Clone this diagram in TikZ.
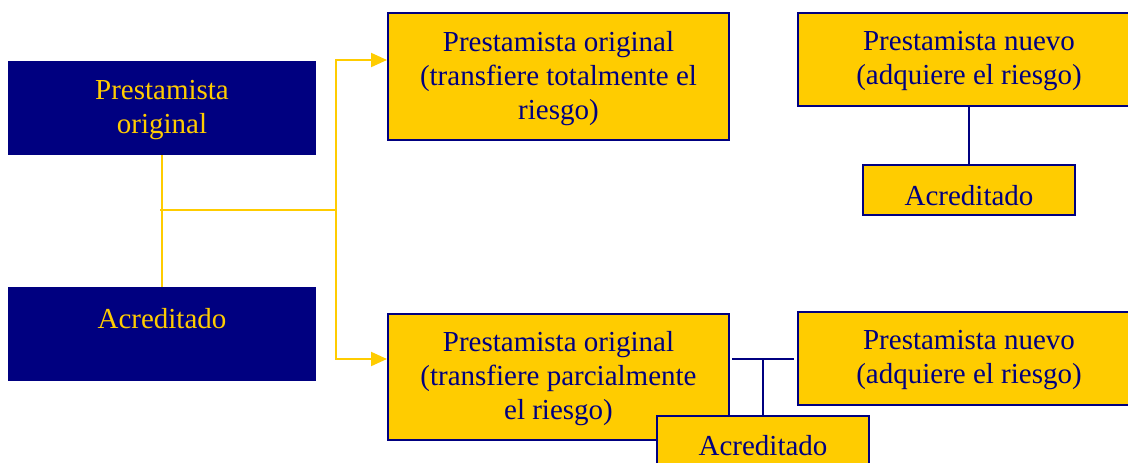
\documentclass[tikz,border=0pt]{standalone}
\usepackage{fontspec}
\setmainfont{Liberation Serif}
\usetikzlibrary{arrows.meta,calc}
\definecolor{navy}{HTML}{000080}
\definecolor{gold}{HTML}{FFCC00}
\begin{document}
\begin{tikzpicture}[x=1pt,y=-1pt,
  txt/.style={font=\fontsize{29}{34}\selectfont, align=center, inner sep=0pt},
  navybox/.style={fill=navy, minimum width=308pt, minimum height=94pt, inner sep=0pt},
  goldbox/.style={fill=gold, draw=navy, line width=2pt, inner sep=0pt},
  ntxt/.style={txt, text=gold},
  gtxt/.style={txt, text=navy},
  yline/.style={draw=gold, line width=2pt},
  nline/.style={draw=navy, line width=2pt},
  yarrow/.style={yline, -{Triangle[length=16pt,width=14pt]}}
]
\useasboundingbox (0,0) rectangle (1128,463);
\clip (0,0) rectangle (1128,463);
\node[navybox, label={[ntxt,yshift=-2pt]center:Prestamista\\original}] (po) at (162,108) {};
\node[navybox, label={[ntxt,yshift=15pt]center:Acreditado}] (ac) at (162,334) {};
\node[goldbox, minimum width=341pt, minimum height=127pt,
  label={[gtxt,yshift=-2pt]center:Prestamista original\\(transfiere totalmente el\\riesgo)}] (t1) at (558.5,76.5) {};
\node[goldbox, minimum width=342pt, minimum height=93pt,
  label={[gtxt,yshift=-2pt]center:Prestamista nuevo\\(adquiere el riesgo)}] (n1) at (969,59.5) {};
\node[goldbox, minimum width=212pt, minimum height=50pt,
  label={[gtxt,yshift=-6pt]center:Acreditado}] (a1) at (969,190) {};
\node[goldbox, minimum width=341pt, minimum height=126pt,
  label={[gtxt,yshift=-2pt]center:Prestamista original\\(transfiere parcialmente\\el riesgo)}] (t2) at (558.5,377) {};
\node[goldbox, minimum width=342pt, minimum height=93pt,
  label={[gtxt,yshift=-2pt]center:Prestamista nuevo\\(adquiere el riesgo)}] (n2) at (969,358.5) {};
\node[goldbox, minimum width=212pt, minimum height=50pt,
  label={[gtxt,yshift=-5pt]center:Acreditado}] (a2) at (763,441) {};
\coordinate (j) at (160,210);
\coordinate (k) at (336,210);
\draw[yline] (po.south) -- (ac.north);
\draw[yline] (j) -- (k);
\draw[yarrow] (k) |- ([yshift=16.5pt]t1.west);
\draw[yarrow] (k) |- ([yshift=18pt]t2.west);
\draw[nline] (n1.south -| a1.north) -- (a1.north);
\draw[nline] ([xshift=2pt]t2.east |- n2.west) -- ([xshift=-3pt]n2.west);
\draw[nline] (a2.north) -- (a2.north |- n2.west);
\end{tikzpicture}
\end{document}
